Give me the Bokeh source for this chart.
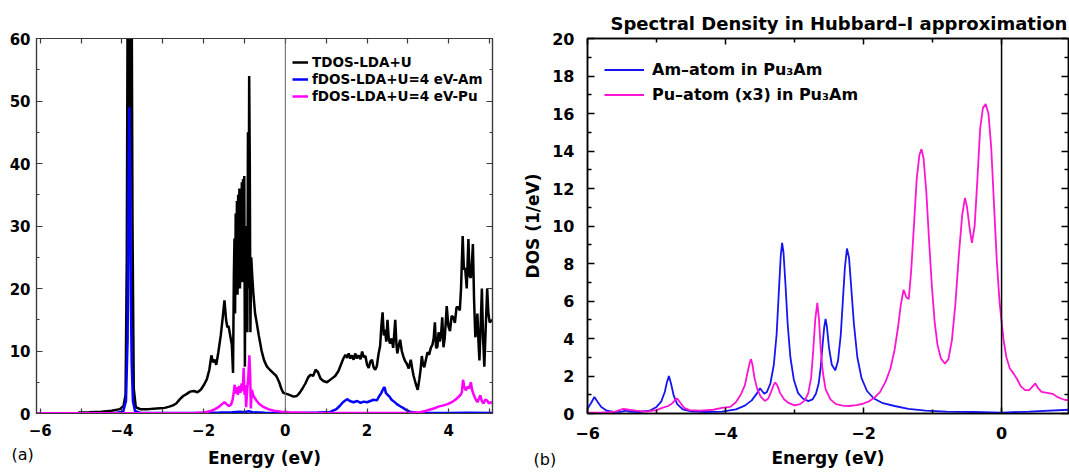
from bokeh.plotting import figure
from bokeh.layouts import row
from bokeh.models import (Span, Label, LinearAxis, FixedTicker, Range1d, Legend,
                          LegendItem, CustomJSTickFormatter, Title)
from bokeh.embed import file_html
from bokeh.resources import INLINE

FONT = "DejaVu Sans"

# ---------------- panel (a) data ----------------
tdos_e = [-5.07, -4.8, -4.5, -4.25, -4.05, -3.96, -3.91, -3.88, -3.86, -3.83, -3.81, -3.79, -3.76, -3.74,
          -3.71, -3.66, -3.55, -3.35, -3.15, -2.95, -2.84, -2.75, -2.67, -2.58, -2.50, -2.42, -2.33, -2.24,
          -2.15, -2.07, -1.99, -1.92, -1.86, -1.81, -1.77, -1.73, -1.69, -1.64, -1.58, -1.53, -1.49, -1.45,
          -1.42, -1.39, -1.35, -1.31, -1.28, -1.26, -1.245, -1.23, -1.215, -1.20, -1.185, -1.17, -1.155,
          -1.14, -1.125, -1.11, -1.095, -1.08, -1.065, -1.05, -1.035, -1.02, -1.005, -0.99, -0.975, -0.96,
          -0.945, -0.93, -0.915, -0.90, -0.885, -0.87, -0.855, -0.835, -0.81, -0.78, -0.74, -0.70, -0.65,
          -0.58, -0.52, -0.45, -0.38, -0.30, -0.22, -0.15, -0.10, -0.05, 0.05, 0.13, 0.2, 0.28, 0.35, 0.42,
          0.49, 0.56, 0.62, 0.68, 0.74, 0.80, 0.86, 0.93, 1.02, 1.12, 1.22, 1.30, 1.36, 1.42, 1.47, 1.51,
          1.55, 1.59, 1.63, 1.67, 1.71, 1.75, 1.79, 1.84, 1.88, 1.92, 1.96, 2.00, 2.04, 2.08, 2.12, 2.16,
          2.20, 2.24, 2.28, 2.32, 2.35, 2.38, 2.41, 2.44, 2.47, 2.50, 2.53, 2.56, 2.60, 2.64, 2.69, 2.72,
          2.74, 2.78, 2.81, 2.85, 2.89, 2.93, 2.97, 3.02, 3.07, 3.11, 3.14, 3.19, 3.24, 3.28, 3.31, 3.34,
          3.37, 3.40, 3.44, 3.48, 3.52, 3.56, 3.60, 3.63, 3.66, 3.69, 3.72, 3.75, 3.78, 3.81, 3.84, 3.87,
          3.90, 3.93, 3.95, 3.99, 4.03, 4.07, 4.11, 4.15, 4.19, 4.23, 4.27, 4.30, 4.34, 4.37, 4.40, 4.44,
          4.48, 4.51, 4.54, 4.57, 4.59, 4.62, 4.65, 4.68, 4.70, 4.73, 4.75, 4.78, 4.81, 4.84, 4.87, 4.90,
          4.94, 4.97, 5.0, 5.07]
tdos_v = [0.15, 0.2, 0.3, 0.45, 0.7, 1.2, 3, 25, 66, 66, 42, 66, 66, 30,
          4, 1.0, 0.7, 0.7, 0.8, 0.9, 1.1, 1.3, 1.6, 2.3, 2.8, 3.1, 3.5, 3.6,
          3.4, 3.8, 4.6, 5.5, 7.0, 9.3, 8.2, 8.6, 7.8, 9.8, 12.5, 15.5, 18.1, 15.0,
          13.8, 14.0, 12.5, 11.0, 6.5, 22, 28, 16, 32, 21, 34, 19, 35,
          23, 36, 20, 36, 25, 37, 21, 37.5, 26, 38, 7.5, 30, 20,
          30, 13, 45, 20, 54, 40, 13, 25, 22, 19, 16, 14.5, 12.5,
          10, 8.5, 7.5, 7.0, 6.5, 6.0, 5.0, 4.0, 3.3, 3.1, 2.9, 2.7, 2.8, 3.3, 4.0,
          4.8, 5.8, 6.2, 6.0, 7.0, 6.6, 5.6, 5.2, 5.0, 5.5, 6.0, 6.8, 7.8, 8.8, 9.4, 8.9,
          9.6, 8.8, 9.3, 8.6, 9.6, 8.8, 9.3, 8.7, 9.9, 9.0, 9.2, 7.8, 7.3, 8.3, 8.6, 7.4,
          7.0, 7.6, 9.5, 10.8, 14.0, 16.2, 12.5, 13.4, 11.5, 15.0, 12.0, 11.2, 12.0, 10.5, 15.0, 11.0,
          9.6, 11.0, 11.8, 10.0, 9.1, 8.4, 8.0, 7.2, 8.6, 7.0, 6.0, 4.8, 3.8, 5.5, 7.0, 9.2,
          7.8, 7.4, 8.6, 9.8, 9.4, 10.5, 11.0, 12.0, 14.6, 10.5, 10.6, 13.0, 11.5, 12.5, 15.4, 10.6,
          12.0, 15.0, 17.2, 14.0, 13.2, 15.6, 15.4, 14.5, 17.0, 17.0, 16.5, 20.0, 28.4, 23.0, 23.3, 20.0,
          27.9, 22.0, 21.7, 24.5, 27.1, 18.0, 12.2, 13.5, 16.0, 11.0, 8.5, 14.0, 20.0, 12.0, 7.5, 13.0,
          20.0, 16.0, 14.6, 15.0]

fam_e = [-6.09, -4.2, -3.97, -3.90, -3.86, -3.84, -3.82, -3.80, -3.78, -3.76, -3.73, -3.68, -3.55, -2.5,
         -2.0, -1.6, -1.3, -1.1, -1.0, -0.9, -0.8, -0.5, 0.0, 0.4, 0.8, 1.1, 1.25, 1.33, 1.41, 1.51, 1.58,
         1.67, 1.76, 1.84, 1.92, 2.0, 2.08, 2.16, 2.24, 2.30, 2.35, 2.40, 2.43, 2.46, 2.50, 2.55, 2.60,
         2.66, 2.73, 2.80, 2.88, 2.96, 3.05, 3.2, 3.5, 4.0, 4.5, 5.07]
fam_v = [0.05, 0.05, 0.3, 2, 12, 35, 49, 40, 18, 8, 2, 0.4, 0.1, 0.08,
         0.1, 0.15, 0.2, 0.3, 0.2, 0.35, 0.2, 0.12, 0.05, 0.1, 0.15, 0.25, 0.7, 1.2, 1.8, 2.3, 2.0,
         1.8, 2.0, 1.7, 1.9, 1.8, 2.0, 2.2, 2.1, 2.8, 3.3, 4.0, 4.2, 3.3, 3.0, 2.7, 2.2,
         1.9, 1.5, 1.2, 0.9, 0.55, 0.3, 0.12, 0.08, 0.1, 0.12, 0.1]

fpu_e = [-6.09, -3.0, -2.2, -2.0, -1.85, -1.72, -1.62, -1.55, -1.49, -1.44, -1.38, -1.33, -1.29, -1.26,
         -1.24, -1.22, -1.19, -1.16, -1.13, -1.10, -1.07, -1.04, -1.02, -1.00, -0.98, -0.96, -0.93,
         -0.905, -0.88, -0.86, -0.845, -0.82, -0.78, -0.72, -0.65, -0.55, -0.42, -0.28, -0.1, 0.1, 0.5,
         1.0, 2.0, 3.0, 3.3, 3.45, 3.63, 3.75, 3.87, 3.97, 4.07, 4.16, 4.23, 4.29, 4.32, 4.35, 4.38,
         4.42, 4.46, 4.50, 4.54, 4.57, 4.60, 4.64, 4.70, 4.74, 4.77, 4.81, 4.85, 4.89, 4.94, 4.98, 5.02,
         5.07]
fpu_v = [0.05, 0.05, 0.08, 0.15, 0.35, 0.7, 1.1, 1.5, 1.8, 1.5, 1.2, 1.4, 2.2, 3.5,
         4.6, 3.2, 4.2, 3.0, 4.4, 3.3, 4.8, 3.6, 7.3, 3.0, 4.5, 1.0, 4.0,
         6.0, 9.3, 6.0, 0.8, 3.8, 2.8, 2.2, 1.6, 1.1, 0.7, 0.45, 0.3, 0.2, 0.12,
         0.1, 0.1, 0.1, 0.2, 0.45, 0.8, 1.1, 1.3, 1.5, 1.8, 2.2, 2.6, 3.0, 3.4, 5.4, 4.2,
         3.7, 4.3, 4.0, 5.0, 3.8, 3.2, 2.5, 1.8, 2.4, 2.9, 2.0, 1.6, 2.2, 2.1, 1.6, 1.8,
         1.7]

legend_a = ["TDOS-LDA+U", "fDOS-LDA+U=4 eV-Am", "fDOS-LDA+U=4 eV-Pu"]
xticks_a = [-6, -4, -2, 0, 2, 4]
xminor_a = [-5, -3, -1, 1, 3, 5]
yticks_a = [0, 10, 20, 30, 40, 50, 60]
yminor_a = [5, 15, 25, 35, 45, 55]

# ---------------- panel (b) data ----------------
am_e = [-6.0, -5.95, -5.90, -5.85, -5.80, -5.72, -5.62, -5.5, -5.45, -5.38, -5.25, -5.1, -5.0, -4.93,
        -4.88, -4.85, -4.82, -4.79, -4.75, -4.70, -4.62, -4.5, -4.3, -4.05, -3.85, -3.72, -3.62, -3.54,
        -3.50, -3.47, -3.44, -3.40, -3.35, -3.30, -3.26, -3.23, -3.20, -3.18, -3.16, -3.13, -3.10, -3.06,
        -3.01, -2.95, -2.88, -2.80, -2.74, -2.69, -2.65, -2.62, -2.59, -2.57, -2.55, -2.53, -2.50, -2.46,
        -2.41, -2.37, -2.33, -2.30, -2.27, -2.24, -2.21, -2.18, -2.14, -2.09, -2.03, -1.95, -1.85, -1.72,
        -1.55, -1.35, -1.1, -0.8, -0.4, 0.0, 0.4, 0.97]
am_v = [0.25, 0.55, 0.88, 0.6, 0.35, 0.15, 0.08, 0.1, 0.15, 0.1, 0.08, 0.15, 0.35, 0.65,
        1.15, 1.65, 2.0, 1.6, 0.95, 0.5, 0.22, 0.12, 0.08, 0.1, 0.22, 0.42, 0.7, 1.1,
        1.35, 1.2, 1.06, 1.15, 1.6, 2.6, 4.2, 6.3, 8.4, 9.1, 8.6, 6.8, 4.8, 3.0,
        1.8, 1.1, 0.8, 0.66, 0.75, 1.05, 1.6, 2.5, 3.8, 4.6, 5.05, 4.6, 3.5, 2.6,
        2.3, 2.8, 4.2, 6.0, 7.8, 8.8, 8.3, 6.8, 4.8, 3.0, 1.9, 1.2, 0.8, 0.55,
        0.4, 0.25, 0.15, 0.1, 0.08, 0.05, 0.1, 0.2]

pu_e = [-6.0, -5.8, -5.6, -5.48, -5.4, -5.3, -5.15, -5.0, -4.92, -4.83, -4.77, -4.72, -4.70, -4.66,
        -4.60, -4.52, -4.37, -4.18, -4.05, -3.93, -3.85, -3.78, -3.72, -3.68, -3.65, -3.63, -3.61, -3.58,
        -3.54, -3.49, -3.43, -3.38, -3.34, -3.30, -3.28, -3.25, -3.21, -3.15, -3.08, -3.0, -2.92, -2.85,
        -2.80, -2.76, -2.73, -2.70, -2.67, -2.645, -2.62, -2.59, -2.55, -2.48, -2.40, -2.30, -2.21, -2.10,
        -2.01, -1.92, -1.84, -1.76, -1.68, -1.61, -1.55, -1.50, -1.46, -1.42, -1.38, -1.345, -1.31, -1.27,
        -1.23, -1.19, -1.16, -1.13, -1.09, -1.05, -1.01, -0.97, -0.93, -0.88, -0.82, -0.77, -0.72, -0.67,
        -0.62, -0.57, -0.53, -0.50, -0.46, -0.43, -0.39, -0.35, -0.31, -0.27, -0.23, -0.19, -0.15, -0.11,
        -0.07, -0.03, 0.0, 0.03, 0.07, 0.12, 0.18, 0.23, 0.28, 0.34, 0.40, 0.45, 0.49, 0.53, 0.58, 0.66,
        0.74, 0.80, 0.86, 0.92, 0.97]
pu_v = [0.05, 0.05, 0.1, 0.25, 0.2, 0.15, 0.1, 0.18, 0.3, 0.4, 0.55, 0.75, 0.8, 0.6,
        0.3, 0.18, 0.15, 0.2, 0.3, 0.35, 0.6, 1.0, 1.5, 2.2, 2.7, 2.9, 2.6, 1.9,
        1.3, 0.9, 0.67, 0.8, 1.15, 1.55, 1.65, 1.5, 1.1, 0.75, 0.55, 0.43, 0.5, 0.7,
        1.1, 1.9, 3.3, 5.0, 5.9, 5.0, 3.4, 2.2, 1.3, 0.75, 0.5, 0.42, 0.4, 0.45,
        0.52, 0.65, 0.85, 1.15, 1.7, 2.4, 3.4, 4.6, 5.8, 6.6, 6.2, 6.1, 7.6, 10.0,
        12.5, 13.8, 14.1, 13.6, 11.8, 9.2, 6.8, 4.9, 3.7, 2.95, 2.65, 2.9, 3.9, 5.8,
        8.4, 10.6, 11.5, 11.0, 9.8, 9.1, 10.0, 12.5, 15.2, 16.3, 16.5, 16.0, 14.2, 11.2,
        8.2, 6.0, 4.9, 3.9, 3.0, 2.4, 2.1, 1.8, 1.45, 1.25, 1.25, 1.45, 1.6, 1.35, 1.15, 1.1,
        1.05, 0.9, 0.8, 0.72, 0.72]

legend_b = ["Am\u2013atom in Pu\u2083Am", "Pu\u2013atom (x3) in Pu\u2083Am"]
title_b = "Spectral Density in Hubbard\u2013I approximation"
xticks_b = [-6, -4, -2, 0]
xminor_b = [-5, -3, -1]
yticks_b = [0, 2, 4, 6, 8, 10, 12, 14, 16, 18, 20]
yminor_b = [1, 3, 5, 7, 9, 11, 13, 15, 17, 19]
panel_tags = ["(a)", "(b)"]

blank = CustomJSTickFormatter(code="return ''")
minus = CustomJSTickFormatter(code="return tick < 0 ? '\\u2212' + Math.abs(tick) : '' + tick")


def style_axis(ax, ticks, minor, color, lw, size, labels=True, maj_len=6, min_len=3, standoff=5):
    ax.ticker = FixedTicker(ticks=ticks, minor_ticks=minor)
    ax.major_tick_in = maj_len
    ax.major_tick_out = 0
    ax.minor_tick_in = min_len
    ax.minor_tick_out = 0
    ax.axis_line_color = color
    ax.axis_line_width = lw
    ax.major_tick_line_color = color
    ax.minor_tick_line_color = color
    ax.major_tick_line_width = lw
    ax.minor_tick_line_width = lw
    ax.major_label_text_font = FONT
    ax.major_label_text_font_style = "bold"
    ax.major_label_text_font_size = size
    ax.major_label_text_color = "black"
    ax.major_label_standoff = standoff
    ax.axis_label_text_color = "black"
    if not labels:
        ax.formatter = blank
        ax.major_label_standoff = 0


# ---------------- panel (a) ----------------
FA = "#3a3a3a"
pa = figure(width=520, height=472, x_range=Range1d(-6.09, 5.07), y_range=Range1d(0, 60),
            output_backend="svg", toolbar_location=None,
            min_border_left=36, min_border_right=28, min_border_top=38, min_border_bottom=59)
pa.xgrid.visible = False
pa.ygrid.visible = False
pa.outline_line_color = FA
pa.outline_line_width = 1.2

style_axis(pa.xaxis[0], xticks_a, xminor_a, FA, 1.2, "15px", maj_len=5, min_len=5, standoff=10)
style_axis(pa.yaxis[0], yticks_a, yminor_a, FA, 1.2, "15px", maj_len=6, min_len=3, standoff=6)
pa.xaxis[0].axis_label = "Energy (eV)"
pa.xaxis[0].axis_label_text_font = FONT
pa.xaxis[0].axis_label_text_font_style = "bold"
pa.xaxis[0].axis_label_text_font_size = "17px"
pa.xaxis[0].axis_label_standoff = 9

ta = LinearAxis()
style_axis(ta, xticks_a, xminor_a, FA, 1.2, "15px", labels=False, maj_len=5, min_len=5)
pa.add_layout(ta, "above")
ra = LinearAxis()
style_axis(ra, yticks_a, yminor_a, FA, 1.2, "15px", labels=False, maj_len=6, min_len=3)
pa.add_layout(ra, "right")

pa.add_layout(Span(location=0, dimension="height", line_color="#606060", line_width=1))

r1 = pa.line(tdos_e, tdos_v, line_color="black", line_width=2.5)
r2 = pa.line(fam_e, fam_v, line_color="#0000ff", line_width=2.5)
r3 = pa.line(fpu_e, fpu_v, line_color="#ff00ff", line_width=2.5)

leg_a = Legend(items=[LegendItem(label=legend_a[0], renderers=[r1]),
                      LegendItem(label=legend_a[1], renderers=[r2]),
                      LegendItem(label=legend_a[2], renderers=[r3])],
               location=(256, 309), label_text_font=FONT, label_text_font_style="bold",
               label_text_font_size="13.5px", label_text_color="black",
               glyph_width=16, glyph_height=16, label_height=16,
               label_standoff=4, spacing=1, padding=0, margin=0, border_line_color=None,
               background_fill_alpha=0)
pa.add_layout(leg_a)

# "(a)" lives in the spare right-hand border so that it is not clipped to the frame
pa.add_layout(Label(x=-481, y=-41, x_units="screen", y_units="screen", text=panel_tags[0],
                    text_font=FONT, text_font_size="16px", text_baseline="middle",
                    text_color="black"), "right")

# ---------------- panel (b) ----------------
pb = figure(width=549, height=472, x_range=Range1d(-6.0, 0.97), y_range=Range1d(0, 20),
            output_backend="svg", toolbar_location=None,
            min_border_left=62, min_border_right=1, min_border_top=38, min_border_bottom=56)
pb.xgrid.visible = False
pb.ygrid.visible = False
pb.outline_line_color = "black"
pb.outline_line_width = 1.5

style_axis(pb.xaxis[0], xticks_b, xminor_b, "black", 1.5, "16px", maj_len=6, min_len=4, standoff=13)
style_axis(pb.yaxis[0], yticks_b, yminor_b, "black", 1.5, "16px", maj_len=7, min_len=4, standoff=13)
pb.xaxis[0].formatter = minus
pb.xaxis[0].axis_label = "Energy (eV)"
pb.yaxis[0].axis_label = "DOS (1/eV)"
for ax in (pb.xaxis[0], pb.yaxis[0]):
    ax.axis_label_text_font = FONT
    ax.axis_label_text_font_style = "bold"
    ax.axis_label_text_font_size = "17px"
pb.xaxis[0].axis_label_standoff = 6
pb.yaxis[0].axis_label_standoff = 6

tb = LinearAxis()
style_axis(tb, xticks_b, xminor_b, "black", 1.5, "16px", labels=False, maj_len=6, min_len=4)
pb.add_layout(tb, "above")
rb = LinearAxis()
style_axis(rb, yticks_b, yminor_b, "black", 1.5, "16px", labels=False, maj_len=7, min_len=4)
pb.add_layout(rb, "right")

pb.title.text = title_b
pb.title.text_font = FONT
pb.title.text_font_style = "bold"
pb.title.text_font_size = "18px"
pb.title.text_color = "black"
pb.title.align = "left"
pb.title.offset = 23
pb.title.standoff = 10

pb.add_layout(Span(location=0, dimension="height", line_color="black", line_width=1.5))

s1 = pb.line(am_e, am_v, line_color="#1515f0", line_width=1.8)
s2 = pb.line(pu_e, pu_v, line_color="#ff14d2", line_width=1.8)

leg_b = Legend(items=[LegendItem(label=legend_b[0], renderers=[s1]),
                      LegendItem(label=legend_b[1], renderers=[s2])],
               location=(17, 306), label_text_font=FONT, label_text_font_style="bold",
               label_text_font_size="16px", label_text_color="black",
               glyph_width=40, glyph_height=25, label_height=25,
               label_standoff=8, spacing=0, padding=0, margin=0, border_line_color=None,
               background_fill_alpha=0)
pb.add_layout(leg_b)

# "(b)": a below-title whose negative standoff cancels its own height
pb.add_layout(Title(text=panel_tags[1], align="left", offset=-54, standoff=-42,
                    vertical_align="top", text_font=FONT, text_font_style="normal",
                    text_font_size="16px", text_color="black"), "below")

layout = row(pa, pb)
open("out.html", "w").write(file_html(layout, INLINE))
